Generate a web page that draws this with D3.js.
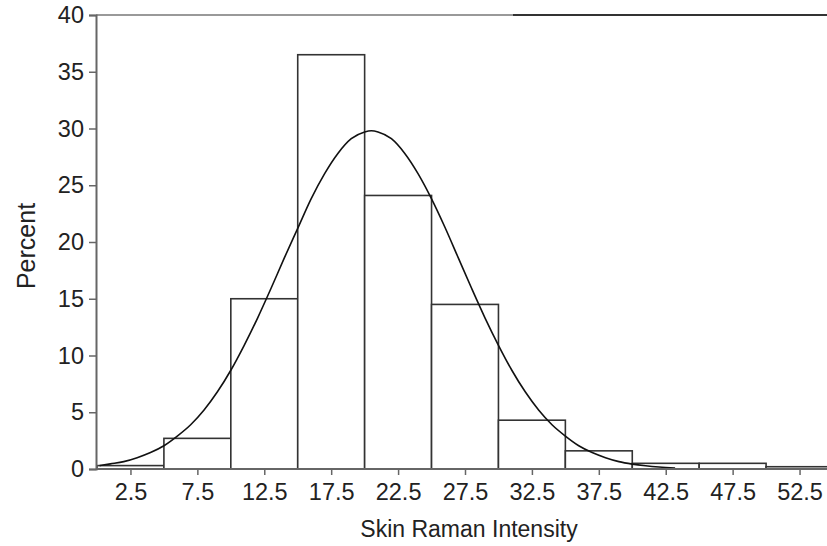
<!DOCTYPE html>
<html>
<head>
<meta charset="utf-8">
<script src="https://cdn.jsdelivr.net/npm/d3@7"></script>
<style>
  body { margin: 0; background: #fff; }
  text { font-family: "Liberation Sans", Arial, sans-serif; fill: #222; }
</style>
</head>
<body>
<svg id="chart" width="827" height="546"></svg>
<script>
// Histogram bins (lower edge, width 5) and percent values
var binStarts = [0, 5, 10, 15, 20, 25, 30, 35, 40, 45, 50];
var binPercent = [0.3, 2.7, 15.0, 36.5, 24.1, 14.5, 4.3, 1.6, 0.5, 0.5, 0.2];

// Fitted normal curve
var curveX = [0.2, 1, 2, 3, 4, 5, 6, 7, 8, 9, 10, 11, 12, 13, 14, 15, 16, 17, 18, 19, 20, 20.5,
              21, 22, 23, 24, 25, 26, 27, 28, 29, 30, 31, 32, 33, 34, 35, 36, 37, 38, 39, 40, 41, 42, 43.2];
var curveY = [0.3, 0.45, 0.65, 1.0, 1.45, 2.05, 2.9, 3.9, 5.2, 6.8, 8.7, 10.9, 13.3, 15.9, 18.6, 21.2, 23.8, 26.0, 27.8, 29.1, 29.7, 29.8,
              29.7, 29.1, 27.8, 26.0, 23.8, 21.3, 18.6, 15.9, 13.3, 10.9, 8.7, 6.8, 5.2, 3.9, 2.9, 2.05, 1.45, 1.0, 0.65, 0.43, 0.28, 0.17, 0.08];

var xTicks = [2.5, 7.5, 12.5, 17.5, 22.5, 27.5, 32.5, 37.5, 42.5, 47.5, 52.5];
var yTicks = [0, 5, 10, 15, 20, 25, 30, 35, 40];

var svg = d3.select('#chart');
var binWidth = 5;

var x = d3.scaleLinear().domain([0, 55]).range([97, 833]);
var y = d3.scaleLinear().domain([0, 40]).range([469, 15]);

// Bars
svg.append('g')
  .selectAll('rect')
  .data(binStarts)
  .enter()
  .append('rect')
  .attr('x', function(d) { return x(d); })
  .attr('y', function(d, i) { return y(binPercent[i]); })
  .attr('width', function(d) { return x(d + binWidth) - x(d); })
  .attr('height', function(d, i) { return y(0) - y(binPercent[i]); })
  .attr('fill', '#fff')
  .attr('stroke', '#333')
  .attr('stroke-width', 1.6);

// Normal curve
var line = d3.line()
  .x(function(d, i) { return x(curveX[i]); })
  .y(function(d) { return y(d); })
  .curve(d3.curveMonotoneX);

svg.append('path')
  .datum(curveY)
  .attr('d', line)
  .attr('fill', 'none')
  .attr('stroke', '#111')
  .attr('stroke-width', 1.6);

// Top frame line
svg.append('line')
  .attr('x1', 96).attr('x2', 513)
  .attr('y1', y(40)).attr('y2', y(40))
  .attr('stroke', '#999').attr('stroke-width', 2);
svg.append('line')
  .attr('x1', 513).attr('x2', 827)
  .attr('y1', y(40)).attr('y2', y(40))
  .attr('stroke', '#333').attr('stroke-width', 2);

// Axes
var xAxis = d3.axisBottom(x).tickValues(xTicks).tickSize(6).tickPadding(8)
  .tickFormat(d3.format('.1f'));
var yAxis = d3.axisLeft(y).tickValues(yTicks).tickSize(7).tickPadding(5);

var gx = svg.append('g')
  .attr('transform', 'translate(0,' + y(0) + ')')
  .call(xAxis);
gx.select('.domain').attr('d', 'M96,0H827').attr('stroke', '#666').attr('stroke-width', 2);

var gy = svg.append('g')
  .attr('transform', 'translate(96,0)')
  .call(yAxis);
gy.select('.domain').attr('stroke', '#666').attr('stroke-width', 2);

svg.selectAll('.tick line').attr('stroke', '#666').attr('stroke-width', 1.5);
svg.selectAll('.tick text')
  .style('font-family', '"Liberation Sans", Arial, sans-serif')
  .style('font-size', '23.5px')
  .attr('fill', '#222');

// Axis titles
svg.append('text')
  .attr('x', 469)
  .attr('y', 537)
  .attr('text-anchor', 'middle')
  .style('font-size', '23px')
  .text('Skin Raman Intensity');

svg.append('text')
  .attr('transform', 'translate(35,246) rotate(-90)')
  .attr('text-anchor', 'middle')
  .style('font-size', '25px')
  .text('Percent');
</script>
</body>
</html>
